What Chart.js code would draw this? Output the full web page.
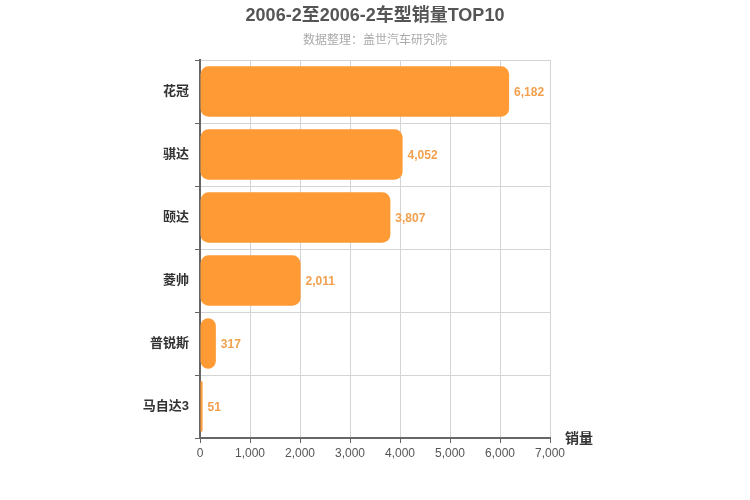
<!DOCTYPE html>
<html>
<head>
<meta charset="utf-8">
<script src="https://cdn.jsdelivr.net/npm/chart.js@4/dist/chart.umd.min.js"></script>
<style>
  html, body { margin: 0; padding: 0; background: #fff; }
  #wrap { width: 750px; height: 500px; }
</style>
</head>
<body>
<div id="wrap"><canvas id="sales-chart"></canvas></div>
<script>
const models = ['花冠', '骐达', '颐达', '菱帅', '普锐斯', '马自达3'];
const sales = [6182, 4052, 3807, 2011, 317, 51];
const xTicks = [0, 1000, 2000, 3000, 4000, 5000, 6000, 7000];
const titleText = '2006-2至2006-2车型销量TOP10';
const subtitleText = '数据整理：盖世汽车研究院';

const FONT = '"Liberation Sans", "Noto Sans CJK SC", sans-serif';

// titles centred on the canvas, value labels at bar ends, axis name "销量"
const chartTexts = {
    id: 'chartTexts',
    afterDatasetsDraw(chart) {
        const ctx = chart.ctx;
        const meta = chart.getDatasetMeta(0);
        ctx.save();
        ctx.textBaseline = 'middle';

        ctx.textAlign = 'center';
        ctx.font = 'bold 18px ' + FONT;
        ctx.fillStyle = '#555';
        ctx.fillText(titleText, chart.width / 2, 16);
        ctx.font = '12px ' + FONT;
        ctx.fillStyle = '#aaa';
        ctx.fillText(subtitleText, chart.width / 2, 41);

        ctx.textAlign = 'left';
        ctx.font = 'bold 12px ' + FONT;
        ctx.fillStyle = '#F2A04E';
        meta.data.forEach((bar, i) => {
            ctx.fillText(sales[i].toLocaleString('en-US'), bar.x + 5, bar.y + 1);
        });

        const area = chart.chartArea;
        ctx.font = 'bold 14px ' + FONT;
        ctx.fillStyle = '#333';
        ctx.fillText('销量', area.right + 15, area.bottom + 1);
        ctx.restore();
    }
};

new Chart(document.getElementById('sales-chart'), {
    type: 'bar',
    data: {
        labels: models,
        datasets: [{
            data: sales,
            backgroundColor: '#FF9A35',
            borderRadius: 8,
            borderSkipped: false,
            barPercentage: 0.8,
            categoryPercentage: 1.0
        }]
    },
    options: {
        indexAxis: 'y',
        responsive: true,
        maintainAspectRatio: false,
        animation: false,
        layout: { padding: { left: 0, right: 200, top: 60, bottom: 0 } },
        scales: {
            x: {
                min: 0,
                max: 7000,
                afterBuildTicks: scale => { scale.ticks = xTicks.map(v => ({ value: v })); },
                afterFit: scale => { scale.height = 62; },
                ticks: {
                    color: '#555',
                    font: { size: 12, family: FONT },
                    padding: 3,
                    callback: v => v.toLocaleString('en-US')
                },
                grid: { color: '#d4d4d4', tickLength: 5, tickColor: '#666' },
                border: { color: '#666', width: 2 }
            },
            y: {
                afterFit: scale => { scale.width = 200; },
                ticks: {
                    color: '#333',
                    font: { size: 13, weight: 'bold', family: FONT },
                    padding: 6
                },
                grid: { color: '#d4d4d4', tickLength: 5, tickColor: '#666' },
                border: { color: '#666', width: 2 }
            }
        },
        plugins: {
            legend: { display: false },
            tooltip: { enabled: false },
            title: { display: false }
        }
    },
    plugins: [chartTexts]
});
</script>
</body>
</html>
